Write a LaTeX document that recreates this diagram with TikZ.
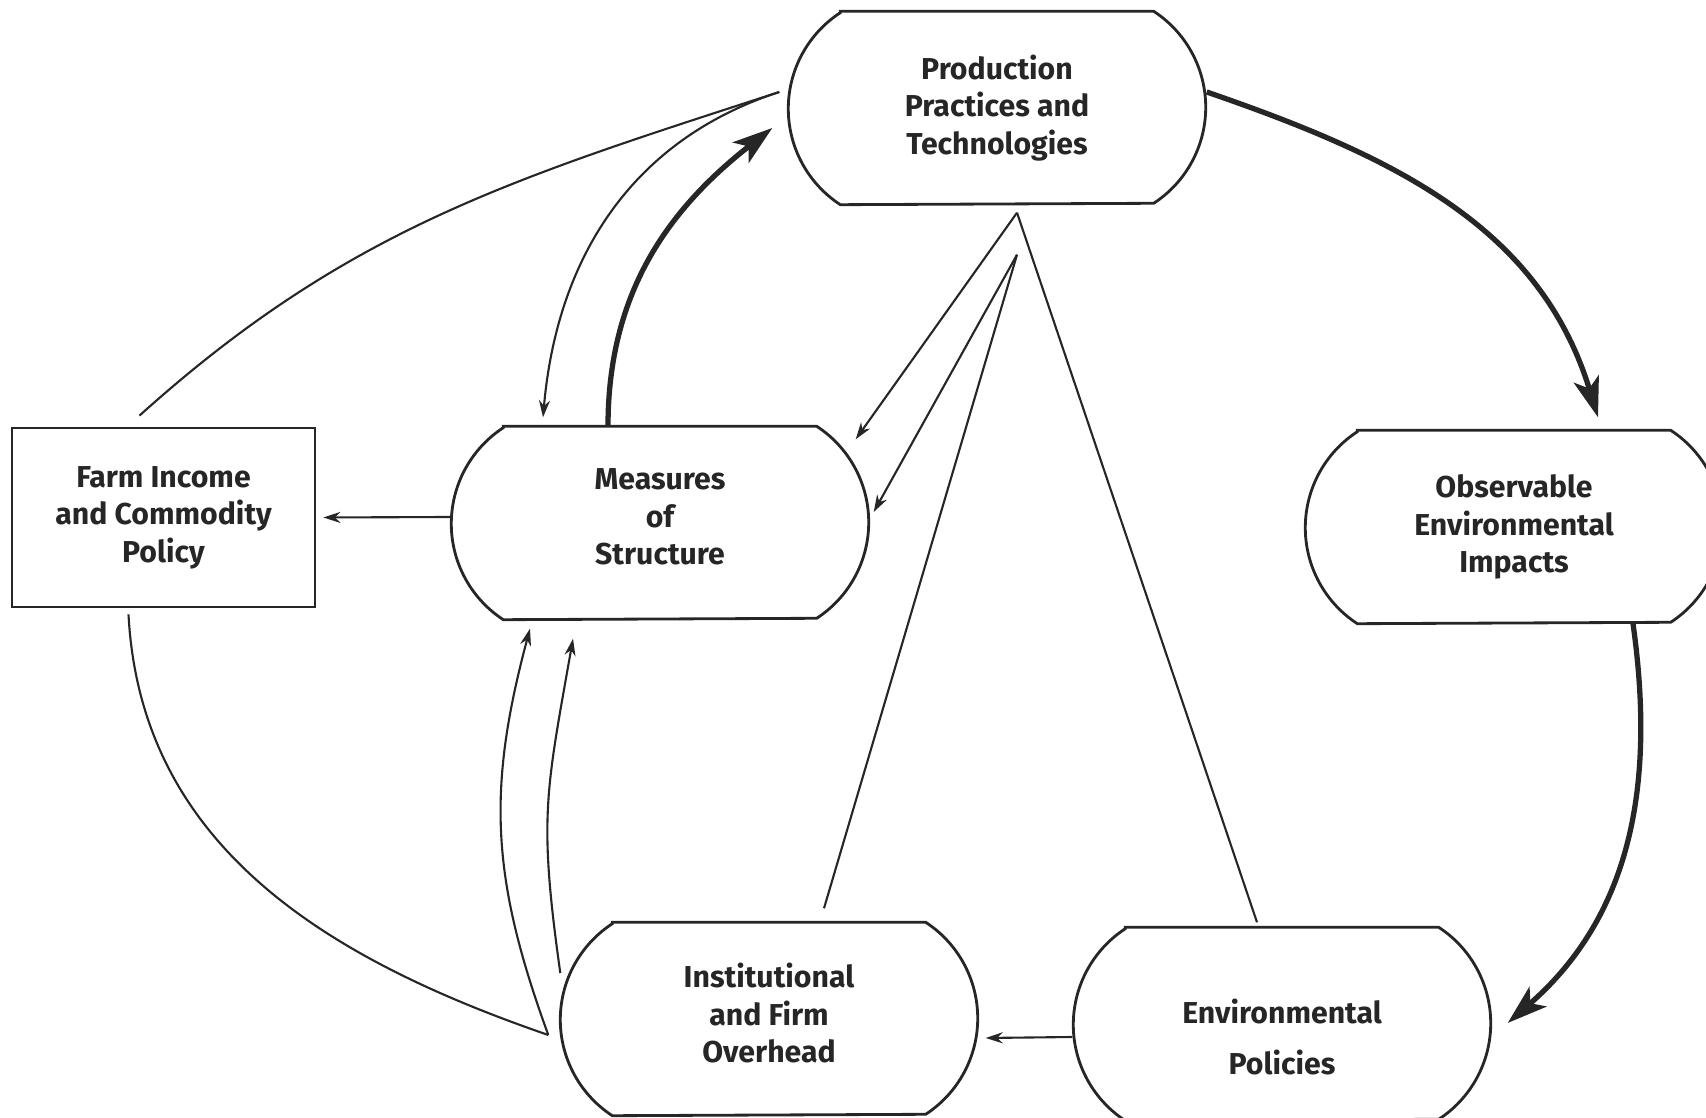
\documentclass[tikz,border=0pt]{standalone}
\usepackage{fontspec}
\setmainfont{Fira Sans}
\usetikzlibrary{arrows.meta}

\definecolor{ink}{RGB}{38,38,38}

\tikzset{
  box/.style={rectangle, minimum width=4.18cm, minimum height=1.92cm, inner sep=0pt,
    align=center, text=ink, font=\fontsize{8.6}{10.7}\selectfont\bfseries},
  farmbox/.style={box, draw=ink, line width=.8pt, minimum width=3.03cm, minimum height=1.79cm},
  podline/.style={draw=ink, line width=.8pt},
  plain/.style={draw=ink, line width=.6pt},
  link/.style={plain, -{Stealth[length=1.7mm, width=1.1mm]}},
  heavy/.style={draw=ink, line width=1.5pt, -{Stealth[length=4mm, width=2.6mm, inset=1mm]}}
}

\begin{document}
\begin{tikzpicture}
\useasboundingbox (0,0) rectangle (17.06,11.17);

% the boxes
\node[box] (prod) at (9.97,10.09) {Production\\Practices and\\Technologies};
\node[box] (meas) at (6.60,6.00) {Measures\\of\\Structure};
\node[box] (obs) at (15.14,5.90) {Observable\\Environmental\\Impacts};
\node[box] (inst) at (7.69,1.04) {Institutional\\and Firm\\Overhead};
\node[box] (envp) at (12.82,0.80) {Environmental\\[1.3mm]Policies};
\node[farmbox] (farm) at (1.635,5.995) {Farm Income\\and Commodity\\Policy};

% rounded sides
\foreach \n/\dy in {prod/0mm, meas/-.6mm, obs/0mm, inst/-.6mm, envp/1.3mm}
{
   \draw[podline] ([xshift=5.3mm, yshift=\dy]\n.north west) -- ([xshift=-5.3mm, yshift=\dy]\n.north east)
      arc[start angle=56.9, end angle=-56.9, radius=1.146]
      -- ([xshift=5.3mm, yshift=\dy]\n.south west)
      arc[start angle=236.9, end angle=123.1, radius=1.146] -- cycle;
}

\coordinate (pleft) at ([xshift=-.8mm, yshift=1.6mm]prod.west);
\coordinate (ileft) at ([xshift=-1.1mm, yshift=-2.2mm]inst.west);
\coordinate (fork1) at ([xshift=2mm, yshift=-.8mm]prod.south);
\coordinate (fork2) at ([yshift=-4.2mm]fork1);

% main cycle
\draw[heavy] ([yshift=1.6mm]prod.east) to[out=-19, in=107] ([xshift=8.4mm, yshift=1.3mm]obs.north);
\draw[heavy] ([xshift=11.9mm]obs.south) to[out=-82, in=41] ([xshift=1.6mm, yshift=1.4mm]envp.east);
\draw[heavy] ([xshift=-5.2mm, yshift=-.6mm]meas.north) to[out=90, in=-142] ([xshift=-1.5mm, yshift=-2mm]prod.west);

% left side
\draw[link] (pleft) to[out=198, in=85] ([xshift=-11.7mm, yshift=.3mm]meas.north);
\draw[plain] (pleft) to[out=198, in=42] ([xshift=-2.4mm, yshift=1.1mm]farm.north);
\draw[plain] ([xshift=-3.5mm, yshift=-.6mm]farm.south) to[out=-87, in=161] (ileft);
\draw[link] (ileft) to[out=110, in=-105, looseness=1.05] ([xshift=-13mm, yshift=-1.5mm]meas.south);
\draw[link] ([xshift=.1mm, yshift=4mm]inst.west) to[out=98, in=-100, looseness=1.2] ([xshift=-8.7mm, yshift=-2.5mm]meas.south);
\draw[link] (meas.west) -- ([xshift=.7mm]farm.east);
\draw[link] (envp.west) -- ([xshift=.7mm, yshift=-2.5mm]inst.east);

% from the fork under Production
\draw[link] (fork1) -- ([xshift=-1.4mm, yshift=-1.9mm]meas.north east);
\draw[plain] (fork1) -- ([xshift=-2.5mm, yshift=1.8mm]envp.north);
\draw[link] (fork2) -- ([xshift=.4mm, yshift=.5mm]meas.east);
\draw[plain] (fork2) -- ([xshift=5.5mm, yshift=.8mm]inst.north);
\end{tikzpicture}
\end{document}
